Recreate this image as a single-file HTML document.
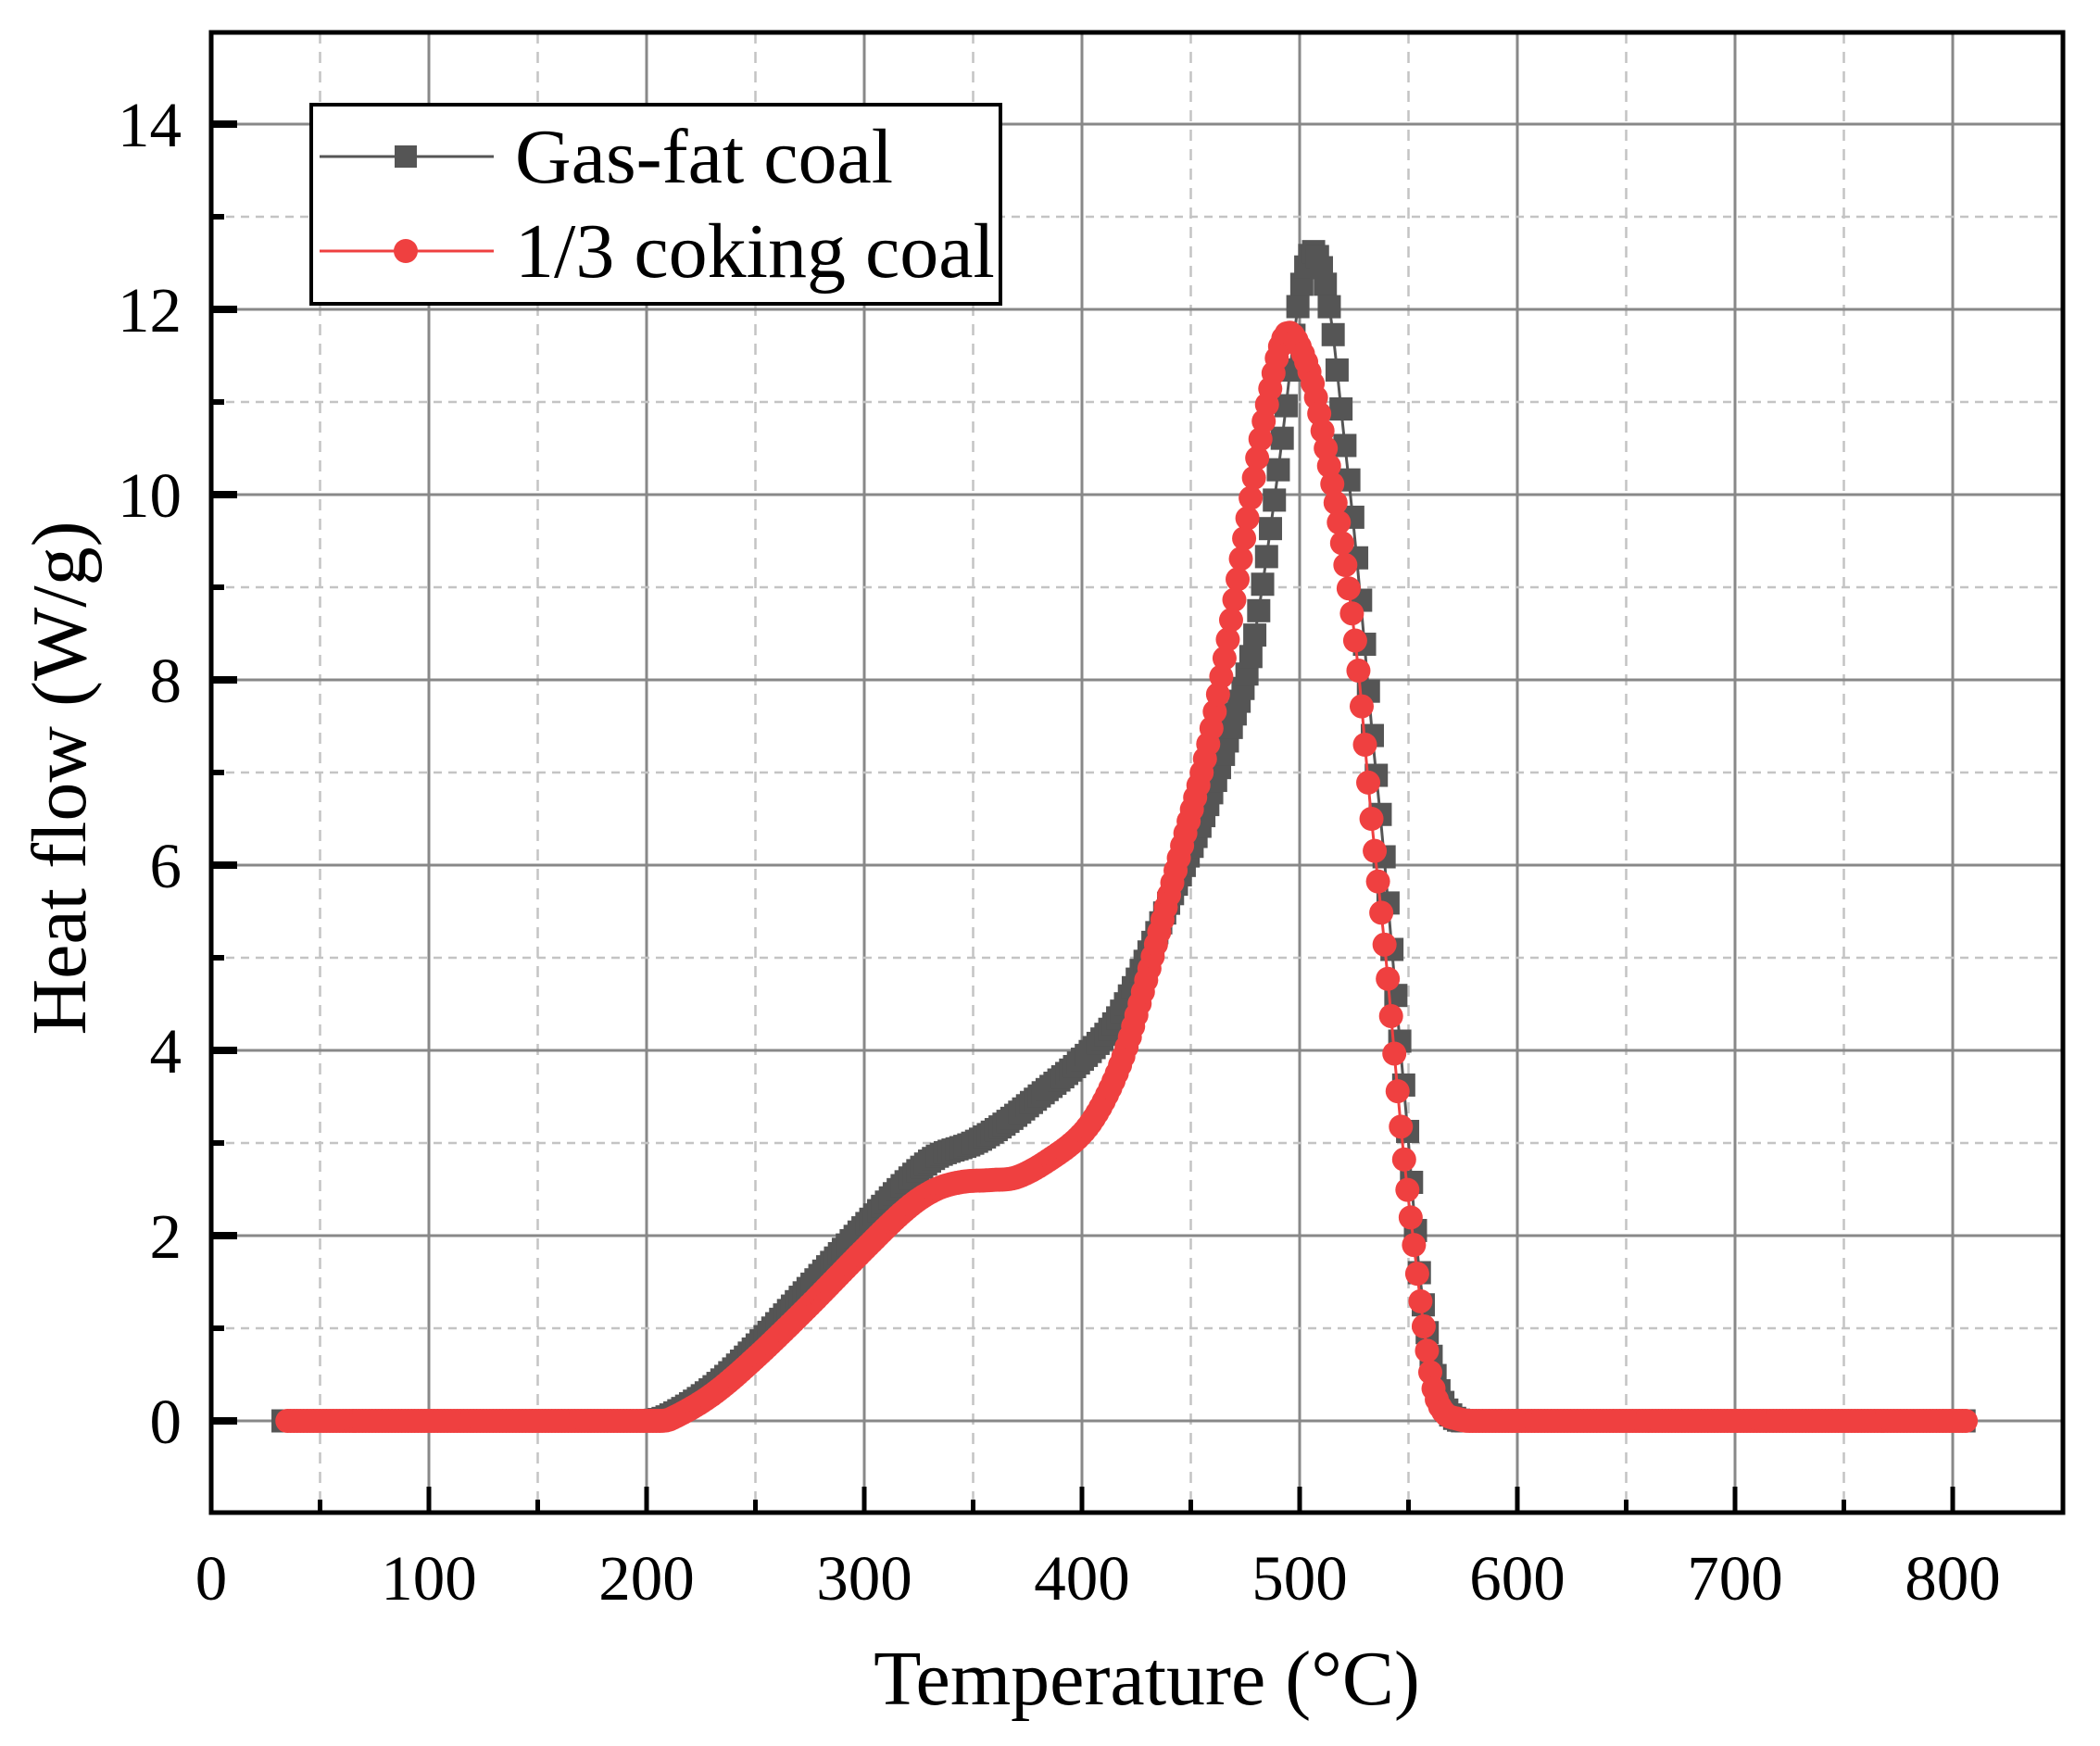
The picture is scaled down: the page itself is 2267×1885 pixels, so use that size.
<!DOCTYPE html>
<html><head><meta charset="utf-8"><style>
html,body{margin:0;padding:0;background:#fff;}
svg{display:block;}
text{font-family:"Liberation Serif",serif;fill:#000;}
</style></head><body>
<svg id="s" width="2267" height="1885" viewBox="0 0 2267 1885" xmlns="http://www.w3.org/2000/svg">
<rect width="2267" height="1885" fill="#fff"/>
<g id="grid"></g>
<g id="data"></g>
<g id="axes"></g>
<g id="legend">
<rect x="336" y="113" width="744" height="215" fill="#fff" stroke="#000" stroke-width="4"/>
<line x1="345" y1="169" x2="533" y2="169" stroke="#555" stroke-width="3"/>
<rect x="426" y="157" width="24" height="24" fill="#555"/>
<text x="556" y="197" font-size="84">Gas-fat coal</text>
<line x1="345" y1="271" x2="533" y2="271" stroke="#EF4040" stroke-width="3"/>
<circle cx="438" cy="271" r="13" fill="#EF4040"/>
<text x="556" y="299" font-size="84">1/3 coking coal</text>
</g>
<text x="1238" y="1840" font-size="84" text-anchor="middle">Temperature (°C)</text>
<text transform="translate(92,840) rotate(-90)" font-size="84" text-anchor="middle">Heat flow (W/g)</text>
</svg>
<script>
var NS="http://www.w3.org/2000/svg";
function X(t){return 228+t*2.35;}
function Y(h){return 1534-h*100;}
function el(p,n,a){var e=document.createElementNS(NS,n);for(var k in a)e.setAttribute(k,a[k]);p.appendChild(e);return e;}
var g=document.getElementById('grid'),ax=document.getElementById('axes'),d=document.getElementById('data');
var L=228,R=2227,T=35,B=1633;
for(var t=50;t<=800;t+=50){var x=X(t);var maj=t%100==0;
 el(g,'line',{x1:x,y1:T,x2:x,y2:B,stroke:maj?'#888':'#c4c4c4','stroke-width':maj?3:2.5,'stroke-dasharray':maj?'':'12,9'});
 el(ax,'line',{x1:x,y1:B,x2:x,y2:B-(maj?28:14),stroke:'#000','stroke-width':5});}
for(var h=-1;h<=15;h++){if(h==-1||h==15)continue;var y=Y(h);var maj=h%2==0;
 el(g,'line',{x1:L,y1:y,x2:R,y2:y,stroke:maj?'#888':'#c4c4c4','stroke-width':maj?3:2.5,'stroke-dasharray':maj?'':'9,7'});
 el(ax,'line',{x1:L,y1:y,x2:L+(maj?28:14),y2:y,stroke:'#000','stroke-width':maj?8:6});
 if(maj){var tx=el(ax,'text',{x:196,y:y+24,'font-size':69,'text-anchor':'end'});tx.textContent=h;}}
for(var t=0;t<=800;t+=100){var tx=el(ax,'text',{x:X(t),y:1727,'font-size':69,'text-anchor':'middle'});tx.textContent=t;}
el(ax,'rect',{x:L,y:T,width:R-L,height:B-T,fill:'none',stroke:'#000','stroke-width':5});
var gas=[[33,0],[200,0],[210,0.05],[230,0.35],[250,0.8],[275,1.45],[300,2.1],[320,2.6],[333,2.85],[350,3.0],[364,3.2],[380,3.5],[400,3.9],[415,4.3],[426,4.8],[440,5.6],[457,6.6],[470,7.6],[478,8.3],[487,9.7],[493,10.8],[499,12.0],[505,12.6],[510,12.45],[515,11.8],[520,10.7],[524,9.85],[529,8.6],[533,7.5],[538,6.3],[542,5.2],[546,4.1],[549,3.3],[552,2.4],[555,1.6],[560,0.75],[565,0.25],[570,0.05],[576,0],[806,0]];
var red=[[35,0],[205,0],[211,0.02],[230,0.28],[250,0.68],[275,1.25],[300,1.85],[320,2.3],[333,2.5],[345,2.58],[358,2.6],[370,2.63],[385,2.82],[400,3.1],[410,3.45],[420,4.0],[430,4.8],[438,5.5],[447,6.3],[457,7.2],[466,8.3],[475,9.6],[482,10.6],[487,11.2],[491,11.6],[495,11.75],[500,11.6],[506,11.2],[512,10.5],[518,9.7],[523,8.9],[527,8.1],[530,7.3],[533,6.5],[537,5.6],[540,4.9],[543,4.1],[546,3.3],[549,2.6],[552,2.0],[556,1.2],[561,0.4],[566,0.1],[573,0.02],[578,0],[806,0]];
function interp(p,t){if(t<=p[0][0])return p[0][1];for(var i=0;i<p.length-1;i++){if(t<=p[i+1][0]){var a=p[i],b=p[i+1];
 var p0=p[Math.max(i-1,0)],p3=p[Math.min(i+2,p.length-1)];var u=(t-a[0])/(b[0]-a[0]);
 var m1=(b[1]-p0[1])/(b[0]-p0[0])*(b[0]-a[0]),m2=(p3[1]-a[1])/(p3[0]-a[0])*(b[0]-a[0]);
 if(a[1]==0&&b[1]==0){m1=0;m2=0;}
 var u2=u*u,u3=u2*u;return (2*u3-3*u2+1)*a[1]+(u3-2*u2+u)*m1+(-2*u3+3*u2)*b[1]+(u3-u2)*m2;}}return p[p.length-1][1];}
function series(p,step,col,circ,t0,t1){var pts=[];for(var t=t0;t<=t1;t+=step){var h=interp(p,t);pts.push(X(t).toFixed(1)+','+Y(h).toFixed(1));}
 el(d,'polyline',{points:pts.join(' '),fill:'none',stroke:col,'stroke-width':3});
 for(var t=t0;t<=t1;t+=step){var x=X(t),y=Y(interp(p,t));
  if(circ)el(d,'circle',{cx:x,cy:y,r:13,fill:col});else el(d,'rect',{x:x-12.5,y:y-12.5,width:25,height:25,fill:col});}}
series(gas,1.8,'#555555',false,33,806);
series(red,1.5,'#EF4040',true,35,806);
</script>
</body></html>
